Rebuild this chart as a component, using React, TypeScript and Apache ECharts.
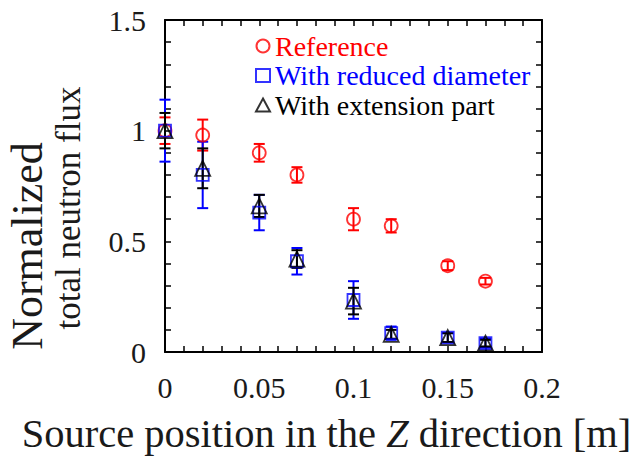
import React, { useEffect, useRef } from "react";
import * as echarts from "echarts";

const xPositions = [0, 0.02, 0.05, 0.07, 0.1, 0.12, 0.15, 0.17];
const referenceFlux = [1.0, 0.98, 0.9, 0.8, 0.6, 0.57, 0.39, 0.32];
const referenceErr = [0.06, 0.07, 0.04, 0.035, 0.05, 0.03, 0.02, 0.015];
const reducedFlux = [1.0, 0.8, 0.63, 0.41, 0.235, 0.085, 0.065, 0.04];
const reducedErr = [0.14, 0.15, 0.08, 0.06, 0.085, 0.03, 0.02, 0.02];
const extensionFlux = [1.0, 0.83, 0.66, 0.42, 0.23, 0.08, 0.065, 0.04];
const extensionErr = [0.08, 0.09, 0.05, 0.04, 0.06, 0.02, 0.02, 0.015];

const seriesNames = ["Reference", "With reduced diameter", "With extension part"];
const seriesColors = ["#ff0000", "#0000ff", "#000000"];
const xAxisName = "Source position in the {i|Z} direction [m]";
const yAxisLines = ["Normalized", "total neutron flux"];

const FONT = "'Liberation Serif', 'Times New Roman', serif";
const TEXT = "#1a1a1a";

function errorSeries(name: string, color: string, vals: number[], errs: number[]) {
  return {
    type: "custom",
    name: name + " error",
    data: xPositions.map((x, i) => [x, vals[i] - errs[i], vals[i] + errs[i]]),
    encode: { x: 0, y: [1, 2] },
    z: 2,
    silent: true,
    renderItem: (_params: any, api: any) => {
      const x = api.value(0);
      const lo = api.coord([x, api.value(1)]);
      const hi = api.coord([x, api.value(2)]);
      const w = 5.5;
      const st = { stroke: color, lineWidth: 2 };
      return {
        type: "group",
        children: [
          { type: "line", shape: { x1: lo[0], y1: lo[1], x2: hi[0], y2: hi[1] }, style: st },
          { type: "line", shape: { x1: lo[0] - w, y1: lo[1], x2: lo[0] + w, y2: lo[1] }, style: st },
          { type: "line", shape: { x1: hi[0] - w, y1: hi[1], x2: hi[0] + w, y2: hi[1] }, style: st },
        ],
      };
    },
  };
}

function pointSeries(name: string, color: string, vals: number[], symbol: string, size: number, z: number) {
  return {
    type: "scatter",
    name,
    data: xPositions.map((x, i) => [x, vals[i]]),
    symbol,
    symbolSize: size,
    z,
    itemStyle: { color: "rgba(255,255,255,0)", borderColor: color, borderWidth: 1.8 },
  };
}

export default function App() {
  const ref = useRef<HTMLDivElement>(null);
  useEffect(() => {
    if (!ref.current) return;
    const chart = echarts.init(ref.current, null, { renderer: "svg" });
    const axisLine = { show: true, onZero: false, lineStyle: { color: "#000", width: 2 } };
    const tick = { show: true, inside: true, length: 6, lineStyle: { color: "#000", width: 1.5 } };
    const minor = { show: true, splitNumber: 5, length: 6, lineStyle: { color: "#000", width: 1.5 } };
    const labelStyle = { fontFamily: FONT, fontSize: 30, color: TEXT };
    chart.setOption({
      animation: false,
      backgroundColor: "#fff",
      textStyle: { fontFamily: FONT },
      grid: { left: 165, right: 99, top: 20, bottom: 103, containLabel: false },
      legend: {
        orient: "vertical",
        left: 250,
        top: 27,
        itemWidth: 14,
        itemHeight: 13,
        itemGap: 1.5,
        selectedMode: false,
        data: seriesNames.map((n, i) => ({
          name: n,
          textStyle: { color: seriesColors[i], fontFamily: FONT, fontSize: 28 },
        })),
        textStyle: { fontFamily: FONT, fontSize: 28, lineHeight: 27 },
      },
      xAxis: [
        {
          type: "value",
          min: 0,
          max: 0.2,
          interval: 0.05,
          position: "bottom",
          axisLine,
          axisTick: tick,
          minorTick: minor,
          splitLine: { show: false },
          axisLabel: { ...labelStyle, margin: 20 },
          name: xAxisName,
          nameLocation: "middle",
          nameGap: 61,
          nameTextStyle: {
            fontFamily: FONT,
            fontSize: 40.5,
            color: TEXT,
            padding: [0, 54, 0, 0],
            rich: { i: { fontFamily: FONT, fontSize: 40.5, fontStyle: "italic", color: TEXT } },
          },
        },
        {
          type: "value",
          min: 0,
          max: 0.2,
          interval: 0.05,
          position: "top",
          axisLine,
          axisTick: tick,
          minorTick: minor,
          splitLine: { show: false },
          axisLabel: { show: false },
        },
      ],
      yAxis: [
        {
          type: "value",
          min: 0,
          max: 1.5,
          interval: 0.5,
          position: "left",
          axisLine,
          axisTick: tick,
          minorTick: minor,
          splitLine: { show: false },
          axisLabel: { ...labelStyle, margin: 19 },
        },
        {
          type: "value",
          min: 0,
          max: 1.5,
          interval: 0.5,
          position: "right",
          axisLine,
          axisTick: tick,
          minorTick: minor,
          splitLine: { show: false },
          axisLabel: { show: false },
        },
      ],
      graphic: [
        {
          type: "text",
          x: 27.5,
          y: 246,
          rotation: Math.PI / 2,
          style: {
            text: yAxisLines[0],
            fontFamily: FONT,
            fontSize: 44,
            fill: TEXT,
            textAlign: "center",
            textVerticalAlign: "middle",
          },
        },
        {
          type: "text",
          x: 68,
          y: 208,
          rotation: Math.PI / 2,
          style: {
            text: yAxisLines[1],
            fontFamily: FONT,
            fontSize: 35,
            fill: TEXT,
            textAlign: "center",
            textVerticalAlign: "middle",
          },
        },
      ],
      series: [
        errorSeries(seriesNames[0], seriesColors[0], referenceFlux, referenceErr),
        pointSeries(seriesNames[0], seriesColors[0], referenceFlux, "circle", 13, 3),
        errorSeries(seriesNames[1], seriesColors[1], reducedFlux, reducedErr),
        pointSeries(seriesNames[1], seriesColors[1], reducedFlux, "rect", 12, 5),
        errorSeries(seriesNames[2], seriesColors[2], extensionFlux, extensionErr),
        pointSeries(seriesNames[2], seriesColors[2], extensionFlux, "triangle", 15, 7),
      ],
    });
    return () => chart.dispose();
  }, []);
  return <div ref={ref} style={{ position: "fixed", left: 0, top: 0, width: 641, height: 459 }} />;
}
